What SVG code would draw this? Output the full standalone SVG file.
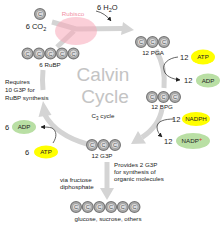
<svg xmlns="http://www.w3.org/2000/svg" width="224" height="225" viewBox="0 0 224 225">
<defs>
<style>
text{font-family:"Liberation Sans","Open Sans",Arial,sans-serif;fill:#222}
.s{font-size:6.2px}
.m{font-size:7.5px}
.mid{text-anchor:middle}
.big{font-size:19px;fill:#c4c4c4;font-family:"Liberation Sans","Open Sans",sans-serif;text-anchor:middle}
.arc{fill:none;stroke:#d4d4d4;stroke-width:5}
.head{fill:#d4d4d4}
.blk{fill:none;stroke:#222;stroke-width:0.7}
.atp{fill:#ffff00}
.adp{fill:#b9dfa4}
.cout{fill:#b5b5b5;stroke:#777;stroke-width:1.2}
.cin{fill:#dcdcdc;stroke:#8c8c8c;stroke-width:0.6}
.ct{font-size:5.6px;fill:#555;text-anchor:middle}
</style>
<g id="carbon">
<circle r="5.4" class="cout"/>
<circle r="3.6" class="cin"/>
<text y="2" class="ct">C</text>
</g>
<marker id="ar" viewBox="0 0 10 10" refX="9" refY="5" markerWidth="4.5" markerHeight="4.5" markerUnits="userSpaceOnUse" orient="auto">
<path d="M0,0 L10,5 L0,10 z" fill="#222"/>
</marker>
</defs>

<g id="connectors">
<path class="arc" d="M52,22 L76,29 L123,28.5"/>
<path class="arc" d="M57,47 L74,31"/>
<polygon class="head" points="134,30 123,22 121,35"/>
<path class="arc" d="M156,50 Q166,68 164,88"/>
<path class="arc" d="M162,109 Q159,126 142,137.4"/>
<polygon class="head" points="131,144 146,143.5 138,131"/>
<path class="arc" d="M87,144 Q56,135 45,115"/>
<polygon class="head" points="43,101 51.5,115 38.5,117"/>
<path class="arc" d="M43,90 Q42,80 43,70"/>
<path class="arc" d="M107,162 L107,190"/>
<polygon class="head" points="100,188 114,188 107,200"/>
<path class="blk" d="M96,11 Q105,13 111,21" marker-end="url(#ar)"/>
<path class="blk" d="M178,57 C168,58 162,64 164,70 C165,76 172,79 180,80" marker-end="url(#ar)"/>
<path class="blk" d="M174,119 C165,119 157,121 157,127 C157,131 159,134 162,137" marker-end="url(#ar)"/>
<path class="blk" d="M53,143 C57,137 57,131 52,128 C49,127 45,127 41,127" marker-end="url(#ar)"/>
</g>

<g id="rubisco">
<ellipse cx="76" cy="31" rx="21" ry="14" fill="#f7a8b8" opacity="0.55"/>
<text x="73" y="16" class="s mid" style="fill:#f090a4">Rubisco</text>
</g>

<g id="co2">
<use href="#carbon" x="40" y="14"/>
<text x="36" y="29" class="m mid">6 CO<tspan font-size="5.5" dy="1.5">2</tspan></text>
</g>

<g id="h2o">
<text x="97" y="10" class="m">6 H<tspan font-size="5.5" dy="1.5">2</tspan><tspan dy="-1.5">O</tspan></text>
</g>

<g id="rubp">
<use href="#carbon" x="27.5" y="53.5"/>
<use href="#carbon" x="39" y="53.5"/>
<use href="#carbon" x="50.5" y="53.5"/>
<use href="#carbon" x="62" y="53.5"/>
<use href="#carbon" x="73.5" y="53.5"/>
<text x="50" y="67" class="s mid">6 RuBP</text>
</g>

<g id="pga">
<use href="#carbon" x="141" y="42"/>
<use href="#carbon" x="152.5" y="42"/>
<use href="#carbon" x="164" y="42"/>
<text x="153" y="55" class="s mid">12 PGA</text>
</g>

<g id="atp12">
<text x="180" y="60" class="m">12</text>
<ellipse cx="203" cy="57" rx="12" ry="7.5" class="atp"/>
<text x="203" y="59.3" class="s mid">ATP</text>
</g>

<g id="adp12">
<text x="184" y="83" class="m">12</text>
<ellipse cx="208" cy="80.5" rx="12" ry="7" class="adp"/>
<text x="208" y="82.8" class="s mid">ADP</text>
</g>

<g id="bpg">
<use href="#carbon" x="152" y="97"/>
<use href="#carbon" x="163.5" y="97"/>
<use href="#carbon" x="175" y="97"/>
<text x="162" y="108.5" class="s mid">12 BPG</text>
</g>

<g id="nadph">
<text x="172" y="122" class="m">12</text>
<ellipse cx="196" cy="119" rx="14" ry="7" class="atp"/>
<text x="196" y="121.3" class="s mid">NADPH</text>
</g>

<g id="nadp">
<text x="164" y="144" class="m">12</text>
<ellipse cx="193" cy="141" rx="17" ry="8" class="adp"/>
<text x="192" y="143.3" class="s mid">NADP<tspan style="fill:#e03030" dy="-2.5">+</tspan></text>
</g>

<g id="title">
<text x="103" y="81" class="big">Calvin</text>
<text x="105" y="103" class="big">Cycle</text>
<text x="103" y="118" class="s mid">C<tspan font-size="4.5" dy="1.5">3</tspan><tspan dy="-1.5"> cycle</tspan></text>
</g>

<g id="requires">
<text x="5" y="84" class="s">Requires</text>
<text x="5" y="92" class="s">10 G3P for</text>
<text x="5" y="100" class="s">RuBP synthesis</text>
</g>

<g id="adp6">
<text x="5" y="130" class="m">6</text>
<ellipse cx="24" cy="127" rx="12" ry="7" class="adp"/>
<text x="24" y="129.3" class="s mid">ADP</text>
</g>

<g id="atp6">
<text x="25" y="155" class="m">6</text>
<ellipse cx="46" cy="152" rx="12" ry="6.5" class="atp"/>
<text x="46" y="154.3" class="s mid">ATP</text>
</g>

<g id="g3p">
<use href="#carbon" x="92" y="145"/>
<use href="#carbon" x="103.5" y="145"/>
<use href="#carbon" x="115" y="145"/>
<text x="102" y="158" class="s mid">12 G3P</text>
</g>

<g id="provides">
<text x="114" y="167" class="s">Provides 2 G3P</text>
<text x="114" y="174" class="s">for synthesis of</text>
<text x="114" y="181" class="s">organic molecules</text>
</g>

<g id="via">
<text x="60" y="182" class="s">via fructose</text>
<text x="60" y="189" class="s">diphosphate</text>
</g>

<g id="glucose">
<use href="#carbon" x="76" y="207"/>
<use href="#carbon" x="87.7" y="207"/>
<use href="#carbon" x="99.4" y="207"/>
<use href="#carbon" x="111.1" y="207"/>
<use href="#carbon" x="122.8" y="207"/>
<use href="#carbon" x="134.5" y="207"/>
<text x="108" y="221" class="s mid">glucose, sucrose, others</text>
</g>
</svg>
